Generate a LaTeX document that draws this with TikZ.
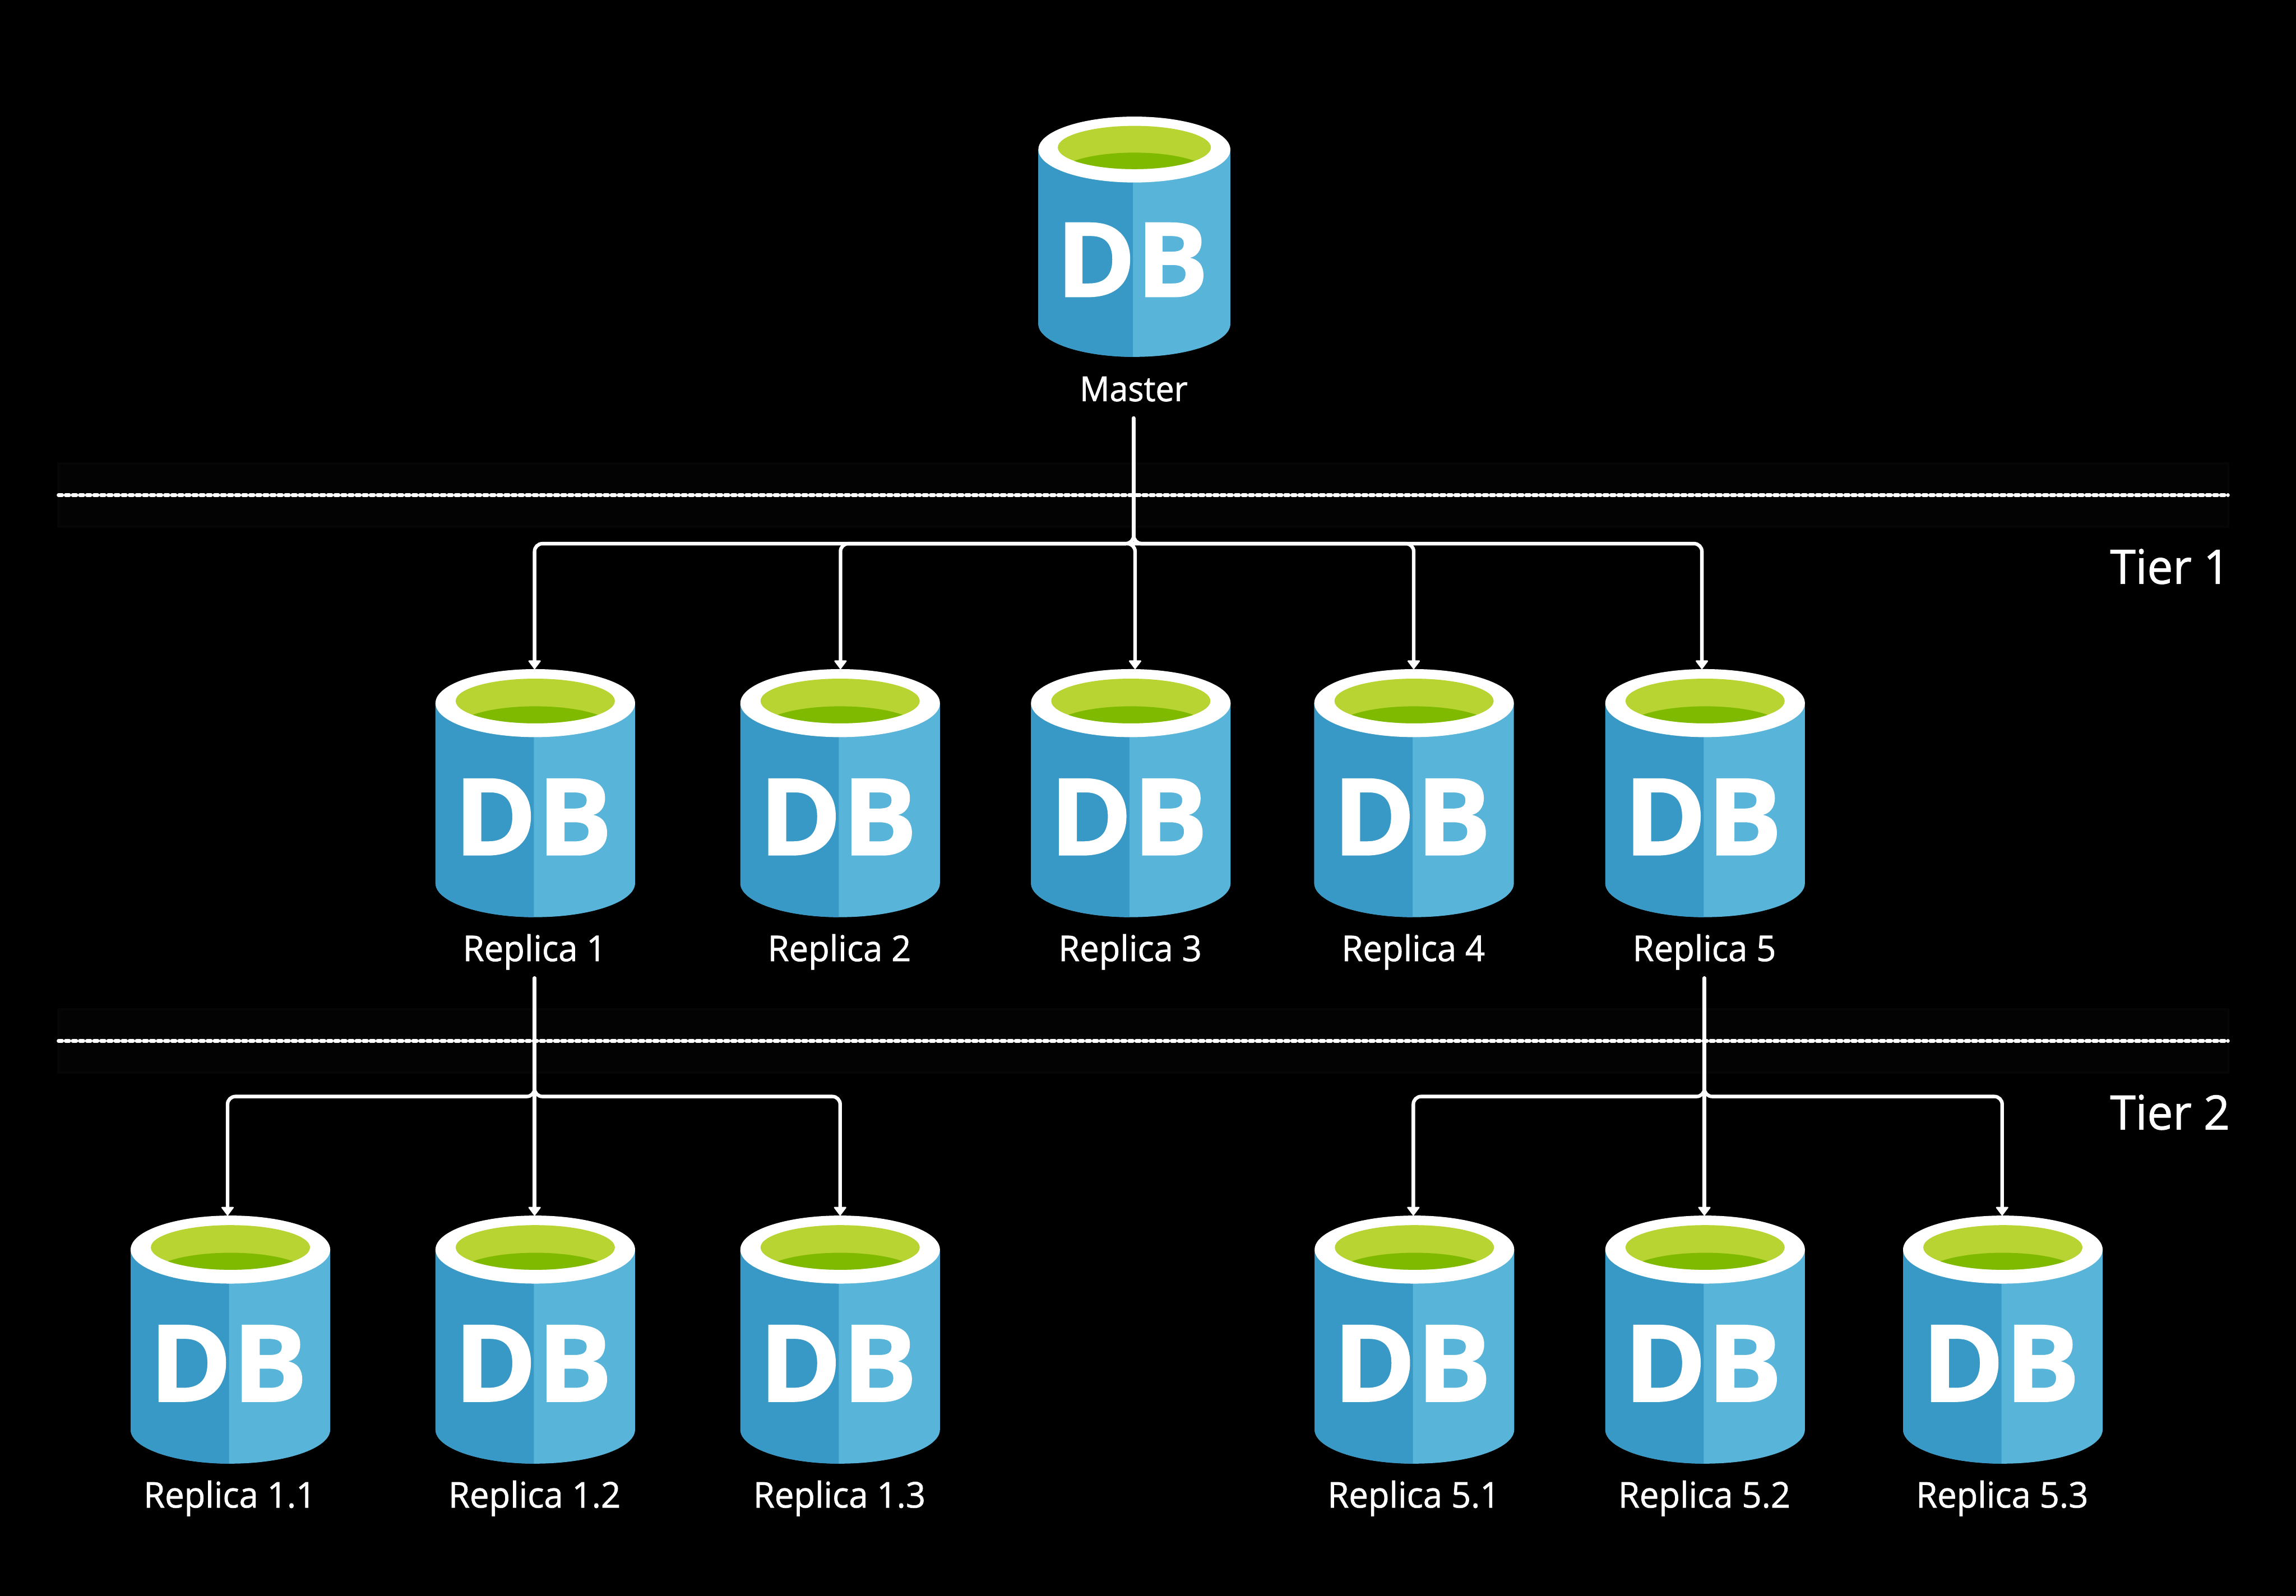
\documentclass[tikz,border=0pt]{standalone}
\usepackage{fontspec}
\setmainfont{Open Sans}[UprightFeatures={FakeBold=1.2}]
\newfontfamily\dbfont{Open Sans}[BoldFeatures={FakeBold=0.8}]
\usepackage{tikz}
\usetikzlibrary{arrows.meta}
\usepackage{xcolor}
\definecolor{bluedark}{HTML}{3999C6}
\definecolor{bluelight}{HTML}{59B4D9}
\definecolor{limelight}{HTML}{B8D432}
\definecolor{limedark}{HTML}{7FBA00}
\definecolor{zonefill}{HTML}{030303}
\definecolor{zoneline}{HTML}{060606}

\tikzset{
    dbtext/.style={anchor=base, inner sep=0pt, text=white, xscale=1.05, font=\dbfont\fontsize{86}{86}\selectfont\bfseries},
    dblabel/.style={anchor=base, inner sep=0pt, text=white, xscale=.97, font=\fontsize{28.5}{30}\selectfont},
    tierlabel/.style={anchor=base west, inner sep=0pt, text=white, transform shape, xscale=.97, font=\fontsize{38}{40}\selectfont},
    zonebox/.style={draw=zoneline, fill=zonefill, line width=.6mm, minimum width=61.22cm, minimum height=1.78cm, inner sep=0pt},
    tierline/.style={white, line width=1mm, line cap=round, dash pattern=on 1.05mm off .95mm, shorten <=.4mm, shorten >=.4mm},
    link/.style={white, line width=1mm, line cap=round, rounded corners=2.2mm},
    linkarrow/.style={link, -{Triangle[length=2.6mm,width=3.8mm,line width=.4mm,round]}}
}

\newcommand{\dbcyl}[6][]{%
    \begin{scope}[shift={(#3,-#4)},#1,transform shape]
        \fill[bluelight] (-2.815,-.96) -- (-2.815,-6.04) arc[start angle=180,end angle=360,x radius=2.815,y radius=.96] -- (2.815,-.96) -- cycle;
        \begin{scope}
            \clip (-3,0) rectangle (-.04,-7);
            \fill[bluedark] (-2.815,-.96) -- (-2.815,-6.04) arc[start angle=180,end angle=360,x radius=2.815,y radius=.96] -- (2.815,-.96) -- cycle;
        \end{scope}
        \fill[white] (0,-.96) ellipse [x radius=2.815,y radius=.96];
        \fill[limelight] (0,-.90) ellipse [x radius=2.245,y radius=.63];
        \begin{scope}
            \clip (0,-.90) ellipse [x radius=2.245,y radius=.63];
            \fill[limedark] (0,-1.68) ellipse [x radius=2.245,y radius=.63];
        \end{scope}
        \node[dbtext] (#2db) at (-.06,-5.25) {DB};
        \node[dblabel] (#2lab) at (-.02,-#5) {#6};
    \end{scope}
}

\begin{document}
\begin{tikzpicture}
    \path[use as bounding box, fill=black] (0,0) rectangle (64.77,-45.03);

    \node[zonebox] (zoneone) at (32.25,-13.97) {};
    \node[zonebox] (zonetwo) at (32.25,-29.37) {};
    \draw[tierline] (zoneone.west) -- (zoneone.east);
    \draw[tierline] (zonetwo.west) -- (zonetwo.east);
    \node[tierlabel] (tierone) at (59.52,-16.47) {Tier 1};
    \node[tierlabel] (tiertwo) at (59.52,-31.87) {Tier 2};

    \dbcyl[xscale=.962,yscale=.9686]{master}{32.00}{3.29}{8.29}{Master}

    \foreach \nm/\cx/\ax/\ty/\lab in {
        ra/15.10/15.08/18.88/Replica 1,
        rb/23.70/23.71/18.88/Replica 2,
        rc/31.90/32.02/18.88/Replica 3,
        rd/39.89/39.88/18.88/Replica 4,
        re/48.10/48.01/18.88/Replica 5,
        raa/6.50/6.42/34.30/Replica 1.1,
        rab/15.10/15.08/34.30/Replica 1.2,
        rac/23.70/23.70/34.30/Replica 1.3,
        rea/39.90/39.87/34.30/Replica 5.1,
        reb/48.10/48.08/34.30/Replica 5.2,
        rec/56.50/56.48/34.30/Replica 5.3} {
        \dbcyl{\nm}{\cx}{\ty}{8.24}{\lab}
        \coordinate (\nm) at (\ax,-\ty);
    }

    \coordinate (masterout) at (31.98,-11.80);
    \coordinate (raout) at (15.08,-27.60);
    \coordinate (reout) at (48.08,-27.60);
    \coordinate (busone) at (0,-15.34);
    \coordinate (bustwo) at (0,-30.94);

    \foreach \nm in {ra,rb,rc,rd,re}
        \draw[linkarrow] (masterout) |- (busone -| \nm) -- (\nm);
    \foreach \nm in {raa,rac}
        \draw[linkarrow] (raout) |- (bustwo -| \nm) -- (\nm);
    \foreach \nm in {rea,rec}
        \draw[linkarrow] (reout) |- (bustwo -| \nm) -- (\nm);
    \draw[linkarrow] (raout) -- (rab);
    \draw[linkarrow] (reout) -- (reb);
\end{tikzpicture}
\end{document}
